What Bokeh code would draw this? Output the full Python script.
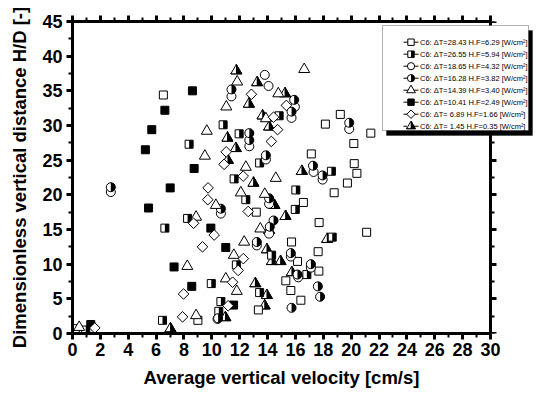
import math
from bokeh.plotting import figure
from bokeh.models import (Range1d, LinearAxis, SingleIntervalTicker, ColumnDataSource,
                          CustomJSTickFormatter, BoxAnnotation, Label, Title)
from bokeh.transform import dodge
from bokeh.embed import file_html
from bokeh.resources import INLINE

# ---------------- data ----------------
labels = [
    "C6: ΔT=28.43 H.F=6.29 [W/cm²]",
    "C6: ΔT=26.55 H.F=5.94 [W/cm²]",
    "C6: ΔT=18.65 H.F=4.32 [W/cm²]",
    "C6: ΔT=16.28 H.F=3.82 [W/cm²]",
    "C6: ΔT=14.39 H.F=3.40 [W/cm²]",
    "C6: ΔT=10.41 H.F=2.49 [W/cm²]",
    "C6: ΔT= 6.89 H.F=1.66 [W/cm²]",
    "C6: ΔT= 1.45 H.F=0.35 [W/cm²]",
]
kinds = ["open_square", "half_square", "open_circle", "half_circle",
         "open_triangle", "filled_square", "diamond", "half_triangle"]

s1_x = [0.2, 6.52, 9.0, 13.34, 15.67, 16.39, 15.31, 17.68, 16.15, 17.63, 15.72, 13.19,
        17.7, 16.57, 21.11, 18.78, 19.73, 20.41, 20.22, 17.14, 20.19, 18.15, 19.22, 21.41]
s1_y = [0.7, 34.4, 1.9, 3.4, 6.2, 4.8, 7.6, 9.0, 10.4, 11.8, 13.2, 17.5,
        16.0, 18.9, 14.6, 20.3, 21.7, 23.1, 24.5, 25.9, 27.4, 30.2, 31.6, 28.9]

s2_x = [0.95, 6.46, 10.5, 10.65, 13.43, 9.96, 16.82, 11.76, 14.29, 18.64, 6.63, 8.26,
        15.99, 12.44, 16.03, 11.6, 18.58, 13.43, 8.37, 11.96, 10.81, 14.83]
s2_y = [0.5, 1.9, 3.2, 4.6, 5.9, 7.2, 8.5, 9.9, 11.3, 13.9, 15.2, 16.6,
        17.9, 19.3, 20.7, 22.3, 23.4, 24.6, 27.3, 28.8, 30.1, 31.4]

s3_x = [10.41, 16.2, 17.11, 15.67, 13.23, 14.11, 10.65, 14.11, 2.75, 17.95, 17.3, 13.88,
        12.69, 19.86, 15.72, 15.96, 11.41, 14.07, 13.8]
s3_y = [2.1, 8.1, 9.5, 11.1, 12.7, 14.4, 17.3, 18.7, 20.4, 22.2, 23.3, 25.1,
        27.0, 29.5, 31.1, 32.7, 34.2, 35.7, 37.3]

s4_x = [10.45, 15.72, 17.77, 17.61, 16.15, 17.11, 15.67, 13.23, 14.16, 14.43, 10.65, 14.11,
        2.75, 17.95, 17.26, 13.88, 12.69, 12.69, 19.86, 15.72, 15.91, 11.41]
s4_y = [2.2, 3.7, 5.3, 6.8, 8.5, 10.0, 11.6, 13.2, 15.4, 16.3, 18.0, 19.5,
        21.1, 22.8, 24.2, 25.7, 27.9, 28.9, 30.4, 32.0, 33.7, 35.2]

s5_x = [0.48, 8.87, 11.79, 11.0, 8.24, 11.58, 12.32, 13.48, 8.87, 10.29, 13.8, 12.08,
        14.59, 12.44, 9.5, 9.64, 13.88, 11.04, 14.77, 11.82, 16.63]
s5_y = [0.9, 2.6, 6.1, 7.9, 9.7, 11.3, 13.2, 15.1, 16.8, 18.5, 20.1, 20.3,
        22.4, 24.0, 25.6, 29.2, 31.0, 32.7, 34.6, 36.3, 38.1]

s6_x = [1.31, 11.56, 8.56, 7.29, 11.0, 9.93, 5.46, 7.01, 8.73, 5.23, 5.69, 6.63, 8.61]
s6_y = [1.3, 4.1, 6.8, 9.6, 12.4, 15.2, 18.1, 21.0, 23.8, 26.5, 29.4, 32.2, 35.0]

s7_x = [1.6, 7.9, 11.17, 7.97, 11.49, 11.89, 12.26, 9.33, 10.17, 8.69, 12.61, 9.71,
        9.73, 12.25, 10.88, 11.03, 14.27, 14.72, 14.43, 15.35, 12.84]
s7_y = [0.8, 2.4, 4.0, 5.7, 7.4, 9.1, 10.8, 12.5, 14.2, 15.9, 17.6, 19.3,
        21.0, 22.7, 24.4, 26.2, 27.7, 29.4, 31.2, 32.9, 34.5]

s8_x = [7.03, 10.97, 13.79, 13.95, 13.12, 15.74, 14.32, 14.93, 13.95, 18.28, 14.11, 15.29,
        14.49, 12.99, 16.46, 11.15, 11.72, 11.12, 14.11, 13.64, 12.66, 15.25, 13.25, 11.76]
s8_y = [0.7, 2.3, 4.0, 5.5, 7.2, 8.8, 10.4, 10.4, 12.1, 13.6, 14.9, 16.9,
        18.5, 21.7, 23.4, 25.0, 26.7, 28.2, 29.8, 31.4, 33.1, 34.6, 36.2, 37.9]

series_x = [s1_x, s2_x, s3_x, s4_x, s5_x, s6_x, s7_x, s8_x]
series_y = [s1_y, s2_y, s3_y, s4_y, s5_y, s6_y, s7_y, s8_y]

x_ticks_interval = 2
y_ticks_interval = 5
XMAX, YMAX = 30, 45
x_title = "Average vertical velocity [cm/s]"
y_title = "Dimensionless vertical distance H/D [-]"

# ---------------- figure ----------------
W, H = 558, 396
BL, BR, BT, BB = 72, 18, 21, 63
AXIS_W = 418                       # px taken by 0..XMAX (the frame runs further right for the legend)
FW, FH = W - BL - BR, H - BT - BB
PXX = AXIS_W / XMAX                # px per x unit
PXY = FH / YMAX                    # px per y unit
X_END = FW / PXX

p = figure(width=W, height=H, x_range=Range1d(0, X_END), y_range=Range1d(0, YMAX),
           output_backend="svg", toolbar_location=None,
           min_border_left=BL, min_border_right=BR, min_border_top=BT, min_border_bottom=BB)
p.xgrid.visible = False
p.ygrid.visible = False
p.outline_line_color = None
p.background_fill_color = "white"
p.border_fill_color = "white"

def px2x(px):
    return (px - BL) / PXX

def px2y(py):
    return (H - BB - py) / PXY

FONT = "Liberation Sans"

def style_axis(ax, labels_on=True):
    ax.axis_line_width = 3
    ax.axis_line_color = "black"
    ax.major_tick_line_width = 3
    ax.minor_tick_line_width = 2
    ax.major_tick_out = 6
    ax.major_tick_in = 0
    ax.minor_tick_out = 4
    ax.minor_tick_in = 0
    ax.major_tick_line_color = "black"
    ax.minor_tick_line_color = "black"
    ax.major_label_text_font = FONT
    ax.major_label_text_font_style = "bold"
    ax.major_label_text_color = "black"
    if labels_on:
        ax.major_label_text_font_size = "18px"
    else:
        ax.major_label_text_font_size = "1px"
        ax.major_label_standoff = 0
        ax.formatter = CustomJSTickFormatter(code="return ''")

xt = lambda: SingleIntervalTicker(interval=x_ticks_interval, num_minor_ticks=2)
yt = lambda: SingleIntervalTicker(interval=y_ticks_interval, num_minor_ticks=2)

p.xaxis.ticker = xt()
p.yaxis.ticker = yt()
style_axis(p.xaxis[0])
style_axis(p.yaxis[0])
p.xaxis.bounds = (0, XMAX)
p.xaxis.major_label_standoff = 3
p.yaxis.major_label_standoff = 4
p.yaxis.axis_label = y_title
p.yaxis.axis_label_text_font = FONT
p.yaxis.axis_label_text_font_style = "bold"
p.yaxis.axis_label_text_font_size = "18.5px"
p.yaxis.axis_label_text_color = "black"
p.yaxis.axis_label_standoff = 9

# x-axis title placed under the 0..30 axis (the frame is wider because of the legend)
xlab = Title(text=x_title, align="left", offset=71,
             text_font=FONT, text_font_style="bold", text_font_size="18.5px",
             text_color="black", standoff=12)
p.add_layout(xlab, "below")

top = LinearAxis(ticker=xt(), bounds=(0, XMAX))
style_axis(top, labels_on=False)
p.add_layout(top, "above")
right = LinearAxis(ticker=yt(), fixed_location=XMAX)
style_axis(right, labels_on=False)
p.add_layout(right, "right")

LW = 1.0

def draw(kind, xs, ys, s=1.0, level="glyph"):
    src = ColumnDataSource(dict(x=xs, y=ys))
    rs = []
    SS, CS, TS, DS = 8 * s, 9 * s, 11 * s, 7.5 * s
    if kind == "open_square":
        rs.append(p.scatter("x", "y", source=src, marker="square", size=SS, fill_color="white",
                            line_color="black", line_width=LW))
    elif kind == "half_square":
        rs.append(p.scatter("x", "y", source=src, marker="square", size=SS, fill_color="white",
                            line_color="black", line_width=LW))
        rs.append(p.rect(x=dodge("x", SS / 4 / PXX, range=p.x_range), y="y", source=src,
                         width=SS / 2, height=SS, width_units="screen", height_units="screen",
                         fill_color="black", line_color=None))
    elif kind == "open_circle":
        rs.append(p.scatter("x", "y", source=src, marker="circle", size=CS, fill_color="white",
                            line_color="black", line_width=LW))
    elif kind == "half_circle":
        rs.append(p.scatter("x", "y", source=src, marker="circle", size=CS, fill_color="white",
                            line_color="black", line_width=LW))
        rs.append(p.wedge("x", "y", source=src, radius=CS / 2, radius_units="screen",
                          start_angle=-math.pi / 2, end_angle=math.pi / 2,
                          fill_color="black", line_color=None))
    elif kind == "open_triangle":
        rs.append(p.scatter("x", "y", source=src, marker="triangle", size=TS, fill_color="white",
                            line_color="black", line_width=LW))
    elif kind == "filled_square":
        rs.append(p.scatter("x", "y", source=src, marker="square", size=SS, fill_color="black",
                            line_color="black", line_width=LW))
    elif kind == "diamond":
        rs.append(p.scatter("x", "y", source=src, marker="square", angle=math.pi / 4, size=DS,
                            fill_color="white", line_color="black", line_width=LW))
    elif kind == "half_triangle":
        rs.append(p.scatter("x", "y", source=src, marker="triangle", size=TS, fill_color="black",
                            line_color="black", line_width=LW))
        rs.append(p.rect(x=dodge("x", -2.7 * s / PXX, range=p.x_range),
                         y=dodge("y", 1.6 * s / PXY, range=p.y_range), source=src,
                         width=4.6 * s, height=9.0 * s, width_units="screen", height_units="screen",
                         fill_color="white", line_color=None))
        rs.append(p.scatter("x", "y", source=src, marker="triangle", size=TS, fill_color=None,
                            line_color="black", line_width=LW))
    for r in rs:
        r.level = level
    return rs

# data: half triangles first (bottom layer), then the others
order = [7, 0, 1, 2, 3, 4, 5, 6]
for i in order:
    draw(kinds[i], series_x[i], series_y[i])

# ---------------- legend (drawn by hand) ----------------
LEG_L, LEG_R, LEG_T, LEG_B = 382, 528, 25, 130
ROW0, ROWSTEP = 41.7, 12.0
ICON_X, DASH_L, DASH_R, TEXT_X = 410.5, 403, 418, 419.5

p.add_layout(BoxAnnotation(left=px2x(LEG_L + 4), right=px2x(LEG_R + 4),
                           top=px2y(LEG_T + 5), bottom=px2y(LEG_B + 5),
                           fill_color="black", fill_alpha=1.0, line_color="black"))
p.add_layout(BoxAnnotation(left=px2x(LEG_L), right=px2x(LEG_R), top=px2y(LEG_T), bottom=px2y(LEG_B),
                           fill_color="white", fill_alpha=1.0, line_color="black", line_width=1))

rows_y = [px2y(ROW0 + ROWSTEP * i) for i in range(len(labels))]
seg = p.segment(x0=[px2x(DASH_L)] * len(labels), x1=[px2x(DASH_R)] * len(labels),
                y0=rows_y, y1=rows_y, line_color="black", line_width=1)
seg.level = "overlay"
for i, lab in enumerate(labels):
    draw(kinds[i], [px2x(ICON_X)], [rows_y[i]], s=0.8, level="overlay")
    p.add_layout(Label(x=px2x(TEXT_X), y=rows_y[i], text=lab, text_font=FONT,
                       text_font_size="7.5px", text_color="black",
                       text_baseline="middle", text_align="left", level="overlay"))

open("out.html", "w").write(file_html(p, INLINE))
